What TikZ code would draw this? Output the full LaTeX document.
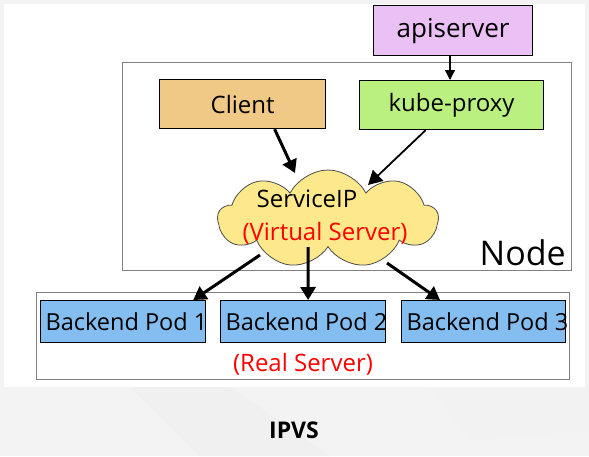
\documentclass[tikz,border=0pt]{standalone}
\usepackage{fontspec}
\setmainfont{Open Sans}
\usetikzlibrary{shapes.symbols,arrows.meta,calc}
\definecolor{apic}{HTML}{EBC1F5}
\definecolor{clic}{HTML}{F0C987}
\definecolor{kpc}{HTML}{B9F07F}
\definecolor{podc}{HTML}{84BDF0}
\definecolor{cloudc}{HTML}{FDE88C}
\definecolor{bgc}{HTML}{F3F3F3}
\tikzset{
  lbl/.style={font=\fontsize{24}{28}\selectfont},
  box/.style={draw=black, line width=1.2pt, inner sep=0pt, lbl},
  frame/.style={draw=gray, line width=0.8pt},
  pod/.style={draw=black, fill=podc, line width=1.2pt, minimum height=42pt, inner xsep=5pt, inner ysep=0pt, anchor=north west, font=\fontsize{23.5}{28}\selectfont},
  thick arrow/.style={line width=3pt, -{Triangle[length=13pt,width=15pt]}},
  mid arrow/.style={line width=1.8pt, -{Triangle[length=14pt,width=15pt]}},
  thin arrow/.style={line width=1.2pt, -{Triangle[length=10pt,width=10pt]}},
}
\begin{document}
\begin{tikzpicture}[x=1pt,y=-1pt]
\useasboundingbox (0,0) rectangle (589,456);
\fill[bgc] (0,0) rectangle (589,456);
\fill[gray!12] (130,387) -- (230,387) -- (330,456) -- (200,456) -- cycle;
\fill[gray!10] (430,387) -- (589,387) -- (589,430) -- (470,440) -- cycle;
\fill[white] (4,4) rectangle (585,387);
% frames
\node[frame, minimum width=449pt, minimum height=208pt, inner sep=0pt, anchor=north west] (nodebox) at (122,62) {};
\node[anchor=south east, inner sep=0pt, font=\fontsize{34}{38}\selectfont] (nodelbl) at (566,266) {Node};
\node[frame, minimum width=533pt, minimum height=87pt, inner sep=0pt, anchor=north west] (podbox) at (36,292) {};
% boxes
\node[box, fill=apic, minimum width=159pt, minimum height=50pt, anchor=north west, font=\fontsize{26}{30}\selectfont] (api) at (373,5) {apiserver};
\node[box, fill=clic, minimum width=166pt, minimum height=49pt, anchor=north west] (client) at (159,79) {Client};
\node[box, fill=kpc, minimum width=184pt, minimum height=49pt, anchor=north west] (kp) at (359,80) {kube-proxy};
% cloud
\node[cloud, draw=black!70, fill=cloudc, line width=0.8pt, cloud puffs=9, cloud puff arc=125, aspect=2.3, minimum width=220pt, minimum height=98pt, inner sep=0pt] (cloud) at (328,219) {};
\node[lbl, inner sep=0pt] (sip) at (307,199) {ServiceIP};
\node[lbl, text=red, inner sep=0pt] (vs) at (325,233) {(Virtual Server)};
% pods
\node[pod] (p1) at (40,300) {\makebox[155pt][l]{Backend Pod 1}};
\node[pod] (p2) at (220,300) {\makebox[155pt][l]{Backend Pod 2}};
\node[pod] (p3) at (401,300) {\makebox[154pt][l]{Backend Pod 3}};
\node[lbl, text=red, inner sep=0pt] (rs) at (303,364) {(Real Server)};
\node[font=\bfseries\fontsize{23}{26}\selectfont, inner sep=0pt] (ipvs) at (294,430) {IPVS};
% arrows
\draw[thin arrow] (api.south -| 450,0) -- (kp.north -| 450,0);
\draw[thick arrow] ([xshift=32pt]client.south) -- ([xshift=-33pt,yshift=46pt]cloud.center);
\draw[mid arrow] ([xshift=-26pt]kp.south) -- ([xshift=40pt,yshift=34pt]cloud.center);
\draw[thick arrow] ([xshift=-68pt,yshift=-36pt]cloud.center) -- ([xshift=-13pt]p1.north east);
\draw[thick arrow] ([xshift=-20pt,yshift=-28pt]cloud.center) -- ([xshift=5pt]p2.north);
\draw[thick arrow] ([xshift=59pt,yshift=-44pt]cloud.center) -- ([xshift=39pt]p3.north west);
\end{tikzpicture}
\end{document}
